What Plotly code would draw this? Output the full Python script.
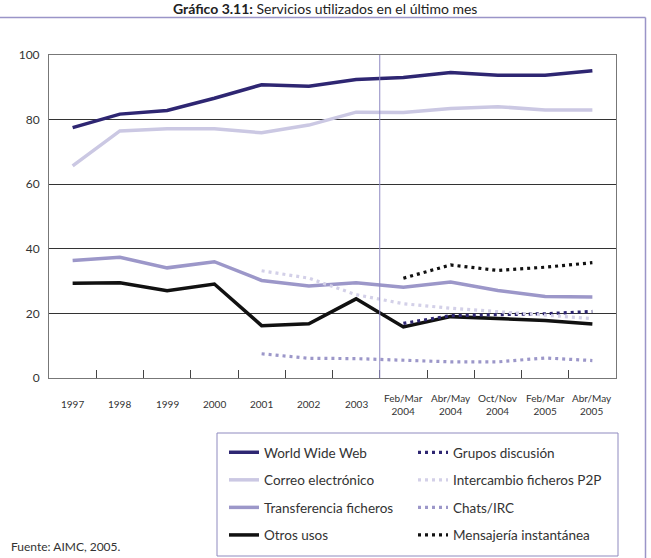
import plotly.graph_objects as go

# ---------------- data ----------------
categories = ["1997", "1998", "1999", "2000", "2001", "2002", "2003",
              "Feb/Mar 2004", "Abr/May 2004", "Oct/Nov 2004", "Feb/Mar 2005", "Abr/May 2005"]
tick_labels = ["1997", "1998", "1999", "2000", "2001", "2002", "2003",
               "Feb/Mar<br>2004", "Abr/May<br>2004", "Oct/Nov<br>2004", "Feb/Mar<br>2005", "Abr/May<br>2005"]

www = [77.5, 81.7, 82.8, 86.6, 90.8, 90.3, 92.4, 93.0, 94.6, 93.7, 93.7, 95.1]
correo = [65.7, 76.5, 77.2, 77.2, 75.9, 78.3, 82.3, 82.2, 83.4, 84.0, 83.0, 83.0]
transferencia = [36.4, 37.4, 34.1, 36.0, 30.2, 28.5, 29.5, 28.1, 29.7, 27.1, 25.2, 25.1]
otros = [29.3, 29.5, 27.0, 29.1, 16.2, 16.8, 24.5, 15.8, 19.0, 18.3, 17.8, 16.7]
grupos = [None, None, None, None, None, None, None, 16.9, 19.3, 19.6, 19.9, 20.6]
p2p = [None, None, None, None, 33.2, 30.9, 25.8, 23.0, 21.6, 20.6, 19.4, 18.4]
chats = [None, None, None, None, 7.5, 6.1, 6.0, 5.5, 5.0, 5.0, 6.2, 5.4]
mensajeria = [None, None, None, None, None, None, None, 30.9, 35.0, 33.3, 34.3, 35.7]

title_text = "<b>Gráfico 3.11:</b> Servicios utilizados en el último mes"
source_text = "Fuente: AIMC, 2005."

# ---------------- layout helpers ----------------
W, H = 651, 558
ML, MR, MT, MB = 49, 35, 55, 180
PW, PH = W - ML - MR, H - MT - MB


def px(x):
    return (x - ML) / PW


def py(y):
    return (H - MB - y) / PH


FONT = "Lato"
NAVY = "#2e2672"
LIGHT = "#cbc8e3"
MID = "#9c97c9"
BLACK = "#111111"

fig = go.Figure()

solid = [
    ("World Wide Web", www, NAVY),
    ("Correo electrónico", correo, LIGHT),
    ("Transferencia ficheros", transferencia, MID),
    ("Otros usos", otros, BLACK),
]
dotted = [
    ("Grupos discusión", grupos, NAVY),
    ("Intercambio ficheros P2P", p2p, "#d3d0e8"),
    ("Chats/IRC", chats, MID),
    ("Mensajería instantánea", mensajeria, BLACK),
]

for i, (name, vals, col) in enumerate(solid):
    fig.add_trace(go.Scatter(
        x=categories, y=vals, name=name, mode="lines",
        line=dict(color=col, width=3.5),
        legend="legend", legendgroup=f"s{i}", hoverinfo="skip"))

for i, (name, vals, col) in enumerate(dotted):
    fig.add_trace(go.Scatter(
        x=categories, y=vals, name=name, mode="lines",
        line=dict(color=col, width=3.2, dash="3px,4px"),
        legend="legend2", legendgroup=f"d{i}", hoverinfo="skip"))

# x tick labels placed through the category axis (by category index)
annotations = []
for idx, lab in enumerate(tick_labels):
    annotations.append(dict(
        x=idx, xref="x", y=py(404), yref="paper", text=lab, showarrow=False,
        xanchor="center", yanchor="middle",
        font=dict(family=FONT, size=10, color="#333333")))

annotations.append(dict(
    x=px(325), xref="paper", y=py(8), yref="paper", text=title_text,
    showarrow=False, xanchor="center", yanchor="middle",
    font=dict(family=FONT, size=14, color="#222222")))
annotations.append(dict(
    x=px(9), xref="paper", y=py(546), yref="paper", text=source_text,
    showarrow=False, xanchor="left", yanchor="middle",
    font=dict(family=FONT, size=12, color="#333333")))

shapes = [
    # separator between annual and bimonthly data
    dict(type="line", xref="x", yref="paper", x0=6.5, x1=6.5, y0=0, y1=1,
         line=dict(color="#8e89c2", width=1)),
    # outer frame lines
    dict(type="line", xref="paper", yref="paper", x0=px(0), x1=px(645.5),
         y0=py(17.5), y1=py(17.5), line=dict(color="#9a95c8", width=1.5)),
    dict(type="line", xref="paper", yref="paper", x0=px(645.5), x1=px(645.5),
         y0=py(17.5), y1=py(560), line=dict(color="#9a95c8", width=1.5)),
    # legend box
    dict(type="rect", xref="paper", yref="paper", x0=px(217), x1=px(618),
         y0=py(433), y1=py(556), line=dict(color="#8f8abf", width=1)),
]

legend_common = dict(
    orientation="v", bgcolor="rgba(0,0,0,0)", borderwidth=0,
    font=dict(family=FONT, size=13.5, color="#333333"),
    tracegroupgap=7, yanchor="top", xanchor="left", traceorder="grouped",
    itemclick=False, itemdoubleclick=False)

fig.update_layout(
    width=W, height=H,
    margin=dict(l=ML, r=MR, t=MT, b=MB, autoexpand=False),
    paper_bgcolor="white", plot_bgcolor="white",
    showlegend=True,
    legend=dict(x=px(224), y=py(437), **legend_common),
    legend2=dict(x=px(413), y=py(437), **legend_common),
    xaxis=dict(
        type="category", categoryorder="array", categoryarray=categories,
        range=[-0.5, 11.5], tickson="boundaries", ticks="inside", ticklen=8,
        tickcolor="#444444", showticklabels=False, showgrid=False,
        showline=True, linecolor="#777777", linewidth=1, mirror=True,
        zeroline=False, fixedrange=True),
    yaxis=dict(
        range=[0, 100], dtick=20, tick0=0, showgrid=True, gridcolor="#333333",
        gridwidth=1, showline=True, linecolor="#777777", linewidth=1, mirror=True,
        zeroline=False, ticks="", ticklabelstandoff=6,
        tickfont=dict(family=FONT, size=12, color="#333333"), fixedrange=True),
    annotations=annotations,
    shapes=shapes,
)

fig.write_html("out.html")
